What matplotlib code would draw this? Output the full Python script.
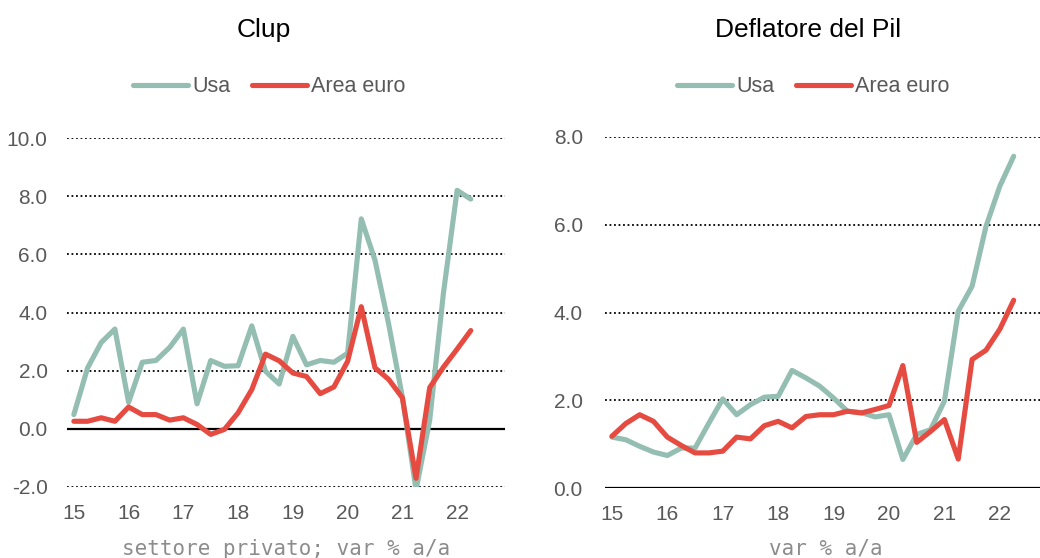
import numpy as np
import matplotlib
matplotlib.use('Agg')
import matplotlib.pyplot as plt

plt.rcParams['font.family'] = ['Liberation Sans', 'DejaVu Sans']

# quarterly data, 2015Q1 - 2022Q2
year_labels = ['15', '16', '17', '18', '19', '20', '21', '22']

clup_usa = [0.49, 2.09, 2.97, 3.43, 0.91, 2.29, 2.35, 2.8, 3.43, 0.86,
            2.35, 2.15, 2.17, 3.54, 1.98, 1.54, 3.18, 2.2, 2.35, 2.29,
            2.6, 7.22, 5.8, 3.6, 1.1, -2.1, 0.3, 4.66, 8.2, 7.9]
clup_ea = [0.26, 0.26, 0.38, 0.26, 0.75, 0.49, 0.49, 0.3, 0.38, 0.15,
           -0.19, -0.02, 0.55, 1.35, 2.57, 2.34, 1.92, 1.8, 1.21, 1.44,
           2.32, 4.2, 2.1, 1.7, 1.07, -1.7, 1.42, 2.12, 2.74, 3.38]

defl_usa = [1.16, 1.1, 0.95, 0.82, 0.74, 0.91, 0.91, 1.48, 2.03, 1.67,
            1.9, 2.07, 2.09, 2.68, 2.51, 2.32, 2.05, 1.75, 1.72, 1.62,
            1.67, 0.65, 1.22, 1.33, 1.98, 4.03, 4.6, 5.96, 6.88, 7.56]
defl_ea = [1.18, 1.47, 1.67, 1.52, 1.16, 0.97, 0.8, 0.8, 0.84, 1.16,
           1.12, 1.42, 1.52, 1.37, 1.63, 1.67, 1.67, 1.75, 1.71, 1.79,
           1.88, 2.79, 1.04, 1.29, 1.56, 0.66, 2.93, 3.14, 3.62, 4.28]

green = '#93BEB1'
red = '#E64B41'
grey = '#595959'

W, H = 1040, 558
fig = plt.figure(figsize=(W / 100, H / 100), dpi=100)


def box(x0, y0, x1, y1):
    return [x0 / W, 1 - y1 / H, (x1 - x0) / W, (y1 - y0) / H]


def panel(ax, usa, ea, yticks, xlim, pad):
    x = np.arange(len(usa))
    ax.plot(x, usa, color=green, lw=3.7, solid_capstyle='round', solid_joinstyle='round', label='Usa')
    ax.plot(x, ea, color=red, lw=3.7, solid_capstyle='round', solid_joinstyle='round', label='Area euro')
    for v in yticks:
        if v == 0:
            ax.axhline(0, color='black', lw=1.6, zorder=1)
        else:
            ax.axhline(v, color='black', lw=1.3, ls=(0, (1, 1.5)), zorder=1)
    ax.set_ylim(yticks[0], yticks[-1])
    ax.set_xlim(*xlim)
    ax.set_yticks(yticks)
    ax.set_yticklabels(['%.1f' % v for v in yticks])
    ax.set_xticks(np.arange(0, len(usa), 4))
    ax.set_xticklabels(year_labels)
    ax.tick_params(length=0, labelsize=15, labelcolor=grey)
    ax.tick_params(axis='y', pad=pad)
    ax.tick_params(axis='x', pad=12)
    for s in ax.spines.values():
        s.set_visible(False)


ax1 = fig.add_axes(box(67, 138, 505, 487))
panel(ax1, clup_usa, clup_ea, [-2, 0, 2, 4, 6, 8, 10], (-0.5, 31.5), 14)
ax2 = fig.add_axes(box(605, 137, 1040, 488))
panel(ax2, defl_usa, defl_ea, [0, 2, 4, 6, 8], (-0.5, 30.9), 16)

fig.text(264 / W, 1 - 30 / H, 'Clup', ha='center', va='center', fontsize=19, color='black')
fig.text(808 / W, 1 - 30 / H, 'Deflatore del Pil', ha='center', va='center', fontsize=19, color='black')

for ax, cx in [(ax1, 269), (ax2, 813)]:
    h, l = ax.get_legend_handles_labels()
    leg = fig.legend(h, l, loc='center', bbox_to_anchor=(cx / W, 1 - 87 / H), ncol=2,
                     frameon=False, fontsize=15.5, handlelength=2.55, handletextpad=0.2,
                     columnspacing=1.0, labelcolor=grey)

fig.text(286 / W, 1 - 549 / H, 'settore privato; var % a/a', ha='center', va='center',
         family='DejaVu Sans Mono', fontsize=15, color='#8c8c8c')
fig.text(826 / W, 1 - 549 / H, 'var % a/a', ha='center', va='center',
         family='DejaVu Sans Mono', fontsize=15, color='#8c8c8c')

fig.savefig('out.png', dpi=100)
